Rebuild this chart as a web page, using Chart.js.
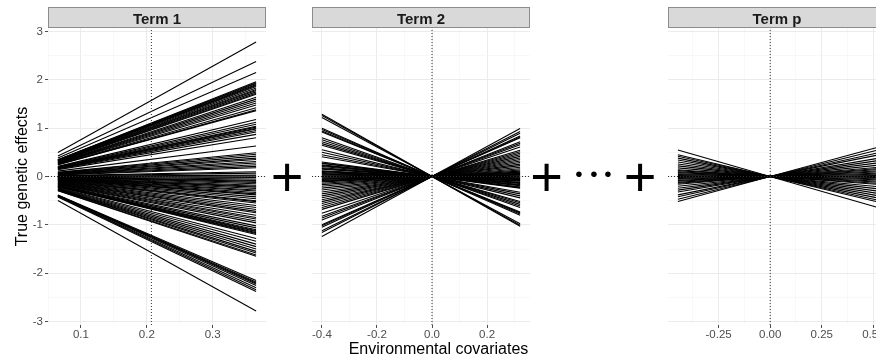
<!DOCTYPE html>
<html>
<head>
<meta charset="utf-8">
<script src="https://cdn.jsdelivr.net/npm/chart.js@4/dist/chart.umd.min.js"></script>
<style>
  html, body { margin: 0; padding: 0; background: #fff; overflow: hidden; }
  #figure { position: relative; width: 900px; height: 355px; }
  #figure canvas { position: absolute; left: 0; top: 0; }
</style>
</head>
<body>
<div id="figure">
  <canvas id="term1" width="900" height="355"></canvas>
  <canvas id="term2" width="900" height="355"></canvas>
  <canvas id="termp" width="900" height="355"></canvas>
</div>
<script>
// per-genotype slope of the genetic effect along each covariate
const term1Slopes = [
  7.60, 6.50, 5.87,
  5.35, 5.30, 5.25, 5.19, 5.14, 5.08, 5.00, 4.92, 4.86, 4.78, 4.70, 4.64,
  4.48, 4.37, 4.26, 4.15, 4.04, 3.88, 3.77, 3.72,
  3.22, 3.06, 2.95, 2.84, 2.79, 2.73, 2.68, 2.60, 2.51,
  2.38, 2.19, 1.72,
  1.34, 1.26, 1.15, 1.04, 0.96, 0.85, 0.76, 0.66, 0.57, 0.49,
  0.27, 0.19, 0.08, 0.03,
  -0.05, -0.14, -0.22, -0.27, -0.33, -0.41, -0.49, -0.55, -0.60, -0.68, -0.76, -0.82, -0.90, -0.98, -1.04,
  -1.15, -1.26, -1.37, -1.42, -1.50, -1.64, -1.75, -1.86, -1.97, -2.05, -2.19, -2.32, -2.40, -2.51, -2.62,
  -2.79, -2.90, -3.01, -3.06, -3.11, -3.17, -3.22, -3.28,
  -3.50, -3.66, -3.82, -3.96, -4.10, -4.23, -4.32, -4.43, -4.51,
  -5.87, -5.96, -6.01, -6.07, -6.15, -6.28, -6.39, -6.50,
  -7.60
];
const term2Slopes = [
  -3.22, -3.15, -3.05,
  -2.50, -2.43, -2.35, -2.30,
  -2.00, -1.90, -1.80, -1.70, -1.62,
  -1.38, -1.25, -1.12, -1.02,
  -0.75, -0.70, -0.68, -0.60, -0.56, -0.52, -0.45, -0.41, -0.38, -0.30, -0.27, -0.25, -0.20,
  -0.15, -0.12, -0.08, -0.03, 0.00, 0.03, 0.08, 0.12, 0.15, 0.20, 0.24, 0.28, 0.35, 0.42, 0.50,
  0.60, 0.70, 0.80, 0.90, 1.00, 1.10, 1.20, 1.30, 1.40, 1.50, 1.60, 1.70,
  1.90, 2.05, 2.15, 2.25,
  2.50, 2.55, 2.62, 2.80, 2.90, 3.10
];
const termPSlopes = [
  -1.23,
  -1.01, -0.94, -0.85, -0.76,
  -0.67, -0.58, -0.49, -0.40, -0.31,
  -0.27, -0.22, -0.18, -0.13, -0.09, -0.04, 0.00, 0.04, 0.09, 0.13, 0.18, 0.22, 0.27, 0.31, 0.36,
  0.45, 0.54, 0.63, 0.72,
  0.85, 0.94, 1.05, 1.16
];

// observed covariate range for each term
const term1Range = [0.065, 0.366];
const term2Range = [-0.40, 0.32];
const termPRange = [-0.447, 0.513];

// dotted vertical reference for each term
const term1Center = 0.207;
const term2Center = 0;
const termPCenter = 0;

const yMajorTicks = [-3, -2, -1, 0, 1, 2, 3];
const yMinorTicks = [-2.5, -1.5, -0.5, 0.5, 1.5, 2.5];
const yLimits = [-3.07, 3.07];

const term1MajorTicks = [0.1, 0.2, 0.3];
const term1MinorTicks = [0.05, 0.15, 0.25, 0.35];
const term2MajorTicks = [-0.4, -0.2, 0, 0.2];
const term2MinorTicks = [-0.3, -0.1, 0.1, 0.3];
const termPMajorTicks = [-0.25, 0, 0.25, 0.5];
const termPMinorTicks = [-0.375, -0.125, 0.125, 0.375];

const stripTitles = ["Term 1", "Term 2", "Term p"];

const FONT = "'Liberation Sans', Arial, Helvetica, sans-serif";
Chart.defaults.font.family = FONT;
Chart.defaults.color = "#4d4d4d";

// grey strip with the facet label above the panel
const stripPlugin = {
  id: "strip",
  beforeDraw(chart, args, opts) {
    const { ctx, chartArea } = chart;
    const w = chartArea.right - chartArea.left;
    ctx.save();
    ctx.fillStyle = "#d9d9d9";
    ctx.fillRect(chartArea.left, 7, w, 21);
    ctx.strokeStyle = "#8c8c8c";
    ctx.lineWidth = 1;
    ctx.strokeRect(chartArea.left + 0.5, 7.5, w - 1, 20);
    ctx.fillStyle = "#1a1a1a";
    ctx.font = "bold 15px " + FONT;
    ctx.textAlign = "center";
    ctx.textBaseline = "alphabetic";
    ctx.fillText(opts.text, chartArea.left + w / 2, 24);
    ctx.restore();
  }
};

// the "+ ... +" between panels and the shared x title
const joinPlugin = {
  id: "join",
  afterDraw(chart) {
    const ctx = chart.ctx;
    ctx.save();
    ctx.fillStyle = "#000";
    ctx.textAlign = "center";
    ctx.textBaseline = "alphabetic";
    ctx.font = "56px " + FONT;
    [287, 546.5, 640].forEach((x) => ctx.fillText("+", x, 195.6));
    ctx.font = "21px " + FONT;
    ctx.textBaseline = "middle";
    [579, 594, 608].forEach((x) => ctx.fillText("\u2022", x, 175.5));
    ctx.textBaseline = "alphabetic";
    ctx.font = "16px " + FONT;
    ctx.fillText("Environmental covariates", 438.5, 354);
    ctx.restore();
  }
};

function gridStyle(majors) {
  return {
    color: (c) => (majors.includes(c.tick.value) ? "#ebebeb" : "#f4f4f4"),
    lineWidth: (c) => (majors.includes(c.tick.value) ? 1 : 0.6),
    tickColor: (c) => (majors.includes(c.tick.value) ? "#4d4d4d" : "rgba(0,0,0,0)"),
    tickLength: 3
  };
}

function makeTerm(id, slopes, range, center, majors, minors, decimals, title, padLeft, padRight, showY) {
  const pad = (range[1] - range[0]) * 0.05;
  const xMin = range[0] - pad;
  const xMax = range[1] + pad;

  const dotted = { borderColor: "#333", borderWidth: 1, borderDash: [1, 2], pointRadius: 0, showLine: true };
  const datasets = [
    Object.assign({ data: [{ x: center, y: yLimits[0] }, { x: center, y: yLimits[1] }] }, dotted),
    Object.assign({ data: [{ x: xMin, y: 0 }, { x: xMax, y: 0 }] }, dotted)
  ];
  slopes.forEach((b) => {
    datasets.push({
      data: range.map((x) => ({ x: x, y: b * x })),
      borderColor: "#000",
      borderWidth: 1.1,
      pointRadius: 0,
      showLine: true
    });
  });

  const xTicks = majors.concat(minors).sort((a, b) => a - b);
  const yTicks = yMajorTicks.concat(yMinorTicks).sort((a, b) => a - b);

  return new Chart(document.getElementById(id), {
    type: "scatter",
    data: { datasets: datasets },
    options: {
      responsive: false,
      animation: false,
      devicePixelRatio: 1,
      layout: { padding: { left: padLeft, right: padRight, top: 28, bottom: 0 } },
      plugins: {
        legend: { display: false },
        tooltip: { enabled: false },
        strip: { text: title }
      },
      scales: {
        x: {
          type: "linear",
          min: xMin,
          max: xMax,
          bounds: "data",
          border: { display: false },
          grid: gridStyle(majors),
          afterBuildTicks: (s) => { s.ticks = xTicks.map((v) => ({ value: v })); },
          afterFit: (s) => { s.height = 30; },
          ticks: {
            autoSkip: false,
            maxRotation: 0,
            padding: 0,
            font: { size: 11.5 },
            color: "#4d4d4d",
            callback: (v) => (majors.includes(v) ? v.toFixed(decimals) : "")
          }
        },
        y: {
          type: "linear",
          min: yLimits[0],
          max: yLimits[1],
          bounds: "data",
          border: { display: false },
          grid: Object.assign(gridStyle(yMajorTicks), showY ? {} : { drawTicks: false }),
          afterBuildTicks: (s) => { s.ticks = yTicks.map((v) => ({ value: v })); },
          afterFit: (s) => { s.width = showY ? 48 : 0; },
          title: {
            display: showY,
            text: "True genetic effects",
            color: "#000",
            font: { size: 16 },
            padding: { top: 13, bottom: 0 }
          },
          ticks: {
            display: showY,
            autoSkip: false,
            padding: 2,
            font: { size: 11.5 },
            color: "#4d4d4d",
            callback: (v) => (yMajorTicks.includes(v) ? String(v) : "")
          }
        }
      }
    },
    plugins: showY ? [stripPlugin, joinPlugin] : [stripPlugin]
  });
}

makeTerm("term1", term1Slopes, term1Range, term1Center, term1MajorTicks, term1MinorTicks, 1, stripTitles[0], 0, 634, true);
makeTerm("term2", term2Slopes, term2Range, term2Center, term2MajorTicks, term2MinorTicks, 1, stripTitles[1], 312, 370, false);
makeTerm("termp", termPSlopes, termPRange, termPCenter, termPMajorTicks, termPMinorTicks, 2, stripTitles[2], 668, 14, false);
</script>
</body>
</html>
